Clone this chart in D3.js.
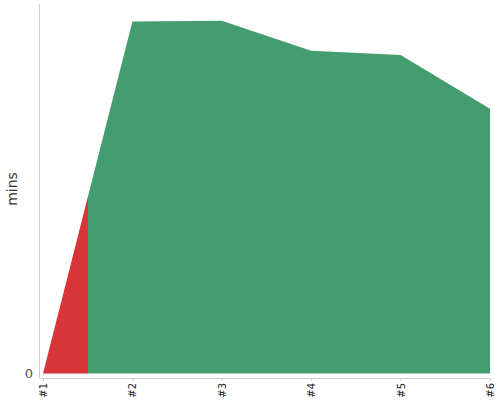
<!DOCTYPE html>
<html>
<head>
<meta charset="utf-8">
<script src="https://cdn.jsdelivr.net/npm/d3@7"></script>
<style>
  body { margin: 0; background: #fff; }
  svg { display: block; font-family: "DejaVu Sans", sans-serif; }
</style>
</head>
<body>
<svg width="500" height="400"></svg>
<script>
// data
var labels = ["#1", "#2", "#3", "#4", "#5", "#6"];
var mins = [0, 40, 40.1, 36.7, 36.2, 30.1];
var yMax = 42;
var splitAt = 0.5; // red up to here (index units), green after

var svg = d3.select("svg");

var x = d3.scalePoint()
    .domain(d3.range(labels.length))
    .range([43, 490]);

var y = d3.scaleLinear()
    .domain([0, yMax])
    .range([373.5, 4]);

var xs = d3.scaleLinear()
    .domain([0, labels.length - 1])
    .range([43, 490]);

// fill gradient with hard stop
var grad = svg.append("defs").append("linearGradient")
    .attr("id", "fill")
    .attr("gradientUnits", "userSpaceOnUse")
    .attr("x1", xs(0)).attr("x2", xs(labels.length - 1))
    .attr("y1", 0).attr("y2", 0);
var off = (xs(splitAt) - xs(0)) / (xs(labels.length - 1) - xs(0));
grad.append("stop").attr("offset", 0).attr("stop-color", "#d83538");
grad.append("stop").attr("offset", off).attr("stop-color", "#d83538");
grad.append("stop").attr("offset", off).attr("stop-color", "#449d6e");
grad.append("stop").attr("offset", 1).attr("stop-color", "#449d6e");

var area = d3.area()
    .x(function(d, i) { return x(i); })
    .y0(y(0))
    .y1(function(d) { return y(d); });

svg.append("path")
    .datum(mins)
    .attr("d", area)
    .attr("fill", "url(#fill)");

// y axis
svg.append("line")
    .attr("x1", 39.5).attr("x2", 39.5)
    .attr("y1", 4).attr("y2", 378)
    .attr("stroke", "#ccc");

svg.append("text")
    .attr("x", 33).attr("y", y(0))
    .attr("dy", "0.35em")
    .attr("text-anchor", "end")
    .attr("fill", "#555")
    .style("font-size", "13px")
    .text("0");

svg.append("text")
    .attr("transform", "translate(17,189) rotate(-90)")
    .attr("text-anchor", "middle")
    .attr("fill", "#333")
    .style("font-size", "14px")
    .text("mins");

// x axis
var xAxis = svg.append("g")
    .attr("transform", "translate(0,378)")
    .call(d3.axisBottom(x).tickSize(3).tickSizeOuter(0)
      .tickFormat(function(i) { return labels[i]; }));

xAxis.select(".domain").attr("stroke", "#ccc").attr("d", "M39.5,0.5H490");
xAxis.selectAll(".tick line").attr("stroke", "#ccc");
xAxis.selectAll(".tick text")
    .attr("transform", "rotate(-90)")
    .attr("text-anchor", "end")
    .attr("x", -5).attr("y", 0)
    .attr("dy", "0.35em")
    .attr("fill", "#222")
    .style("font-size", "10px")
    .style("font-family", "DejaVu Sans, sans-serif");
</script>
</body>
</html>
